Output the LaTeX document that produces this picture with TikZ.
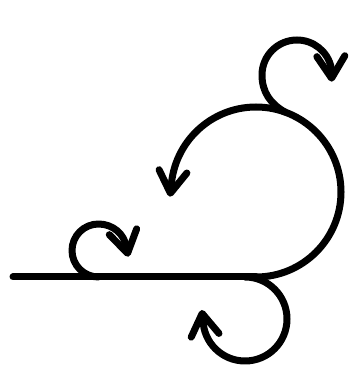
\documentclass[tikz,border=0pt]{standalone}
\usetikzlibrary{arrows.meta}
\begin{document}
\begin{tikzpicture}[x=1pt, y=1pt,
    curve/.style={line width=7pt, line cap=round, line join=round},
    spin/.style={curve, -{Straight Barb[length=22pt, width=28pt, round]}}
  ]
  \useasboundingbox (0,0) rectangle (350,369);
  \coordinate (start) at (13,92);
  \coordinate (base) at (256,92);
  \coordinate (big) at (256,177);
  \coordinate (top) at (297,294);
  \coordinate (low) at (245,50);
  \coordinate (left) at (98.5,118.5);
  \coordinate (bigtip) at (170,172.3);
  \coordinate (toptip) at (331.7,287.3);
  \coordinate (lowtip) at (201.7,59);
  \coordinate (lefttip) at (128.3,112.3);

  \draw[curve] (start) -- (base);
  \draw[spin] (base) arc[start angle=-90, end angle=176.4, radius=85pt] -- (bigtip);
  \draw[spin] ([shift={(70:85pt)}]big) to[out=150, in=-90] ([shift={(180:35pt)}]top)
    arc[start angle=180, end angle=12, radius=35pt] -- (toptip);
  \draw[spin] ([shift={(90:42pt)}]low) arc[start angle=90, end angle=-179, radius=42pt] -- (lowtip);
  \draw[spin] ([shift={(-90:26.5pt)}]left) arc[start angle=-90, end angle=-270, radius=26.5pt]
    arc[start angle=90, end angle=7, x radius=28pt, y radius=26.5pt] -- (lefttip);
\end{tikzpicture}
\end{document}
